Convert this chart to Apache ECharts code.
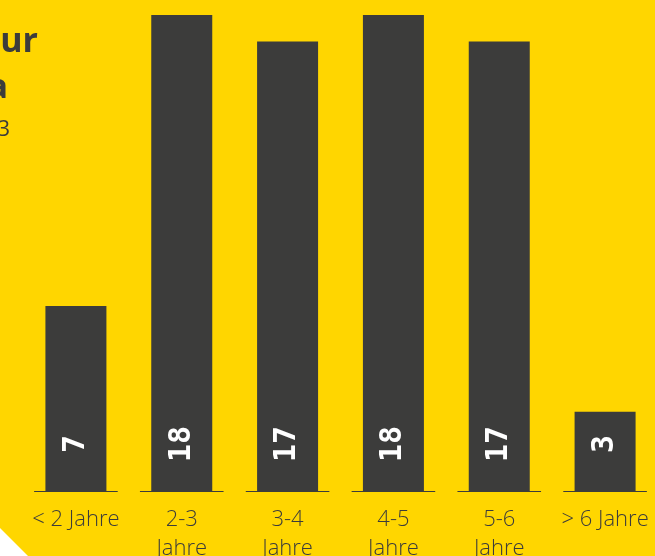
<!DOCTYPE html>
<html>
<head>
<meta charset="utf-8">
<script src="https://cdn.jsdelivr.net/npm/echarts@6.0.0/dist/echarts.min.js"></script>
<style>
  html, body { margin: 0; padding: 0; background: #FFD600; }
  #chart { width: 655px; height: 556px; }
</style>
</head>
<body>
<div id="chart"></div>
<script>
// Betriebszugehoerigkeit in Jahren
var categories = ['< 2 Jahre', '2-3\nJahre', '3-4\nJahre', '4-5\nJahre', '5-6\nJahre', '> 6 Jahre'];
var values = [7, 18, 17, 18, 17, 3];
var titleLines = ['Betriebszugehörigkeit in der Agentur', 'Bereich Kommunikation und Media', 'Stand: 2023'];

var dark = '#3C3C3B';

var option = {
  backgroundColor: '#FFD600',
  animation: false,
  grid: { left: 23, right: -3, top: 15, bottom: 65, outerBoundsMode: 'none', containLabel: false },
  xAxis: {
    type: 'category',
    data: categories,
    axisLine: { show: false },
    axisTick: { show: false },
    axisLabel: {
      color: dark,
      fontFamily: 'Open Sans',
      fontWeight: 300,
      fontSize: 22,
      lineHeight: 29,
      margin: 14,
      interval: 0,
      hideOverlap: false
    }
  },
  yAxis: {
    type: 'value',
    min: 0,
    max: 18,
    show: false,
    splitLine: { show: false }
  },
  graphic: [
    { type: 'text', x: 38, y: 42, style: { text: titleLines[0], align: 'right', verticalAlign: 'middle', fill: dark, font: 'bold 34px "Open Sans"' } },
    { type: 'text', x: 8, y: 88, style: { text: titleLines[1], align: 'right', verticalAlign: 'middle', fill: dark, font: 'bold 34px "Open Sans"' } },
    { type: 'text', x: 10, y: 130, style: { text: titleLines[2], align: 'right', verticalAlign: 'middle', fill: dark, font: '22px "Open Sans"' } },
    { type: 'polygon', shape: { points: [[0, 528], [29, 557], [0, 557]] }, style: { fill: '#FFFFFF' } }
  ],
  series: [
    {
      type: 'bar',
      data: values,
      barWidth: 61,
      itemStyle: { color: dark },
      label: {
        show: true,
        position: 'insideBottom',
        distance: 47,
        rotate: 90,
        align: 'center',
        verticalAlign: 'middle',
        color: '#FFFFFF',
        fontFamily: 'DejaVu Sans Mono',
        fontWeight: 'bold',
        fontSize: 30
      }
    },
    {
      // short base line under each category
      type: 'custom',
      data: categories.map(function (c, i) { return [i, 0]; }),
      renderItem: function (params, api) {
        var p = api.coord([api.value(0), 0]);
        var band = api.size([1, 0])[0];
        var half = band * 0.395;
        return {
          type: 'line',
          shape: { x1: p[0] - half, y1: p[1] + 0.5, x2: p[0] + half, y2: p[1] + 0.5 },
          style: { stroke: dark, lineWidth: 1 }
        };
      },
      z: 3
    }
  ]
};

var myChart = echarts.init(document.getElementById('chart'));
myChart.setOption(option);
</script>
</body>
</html>
